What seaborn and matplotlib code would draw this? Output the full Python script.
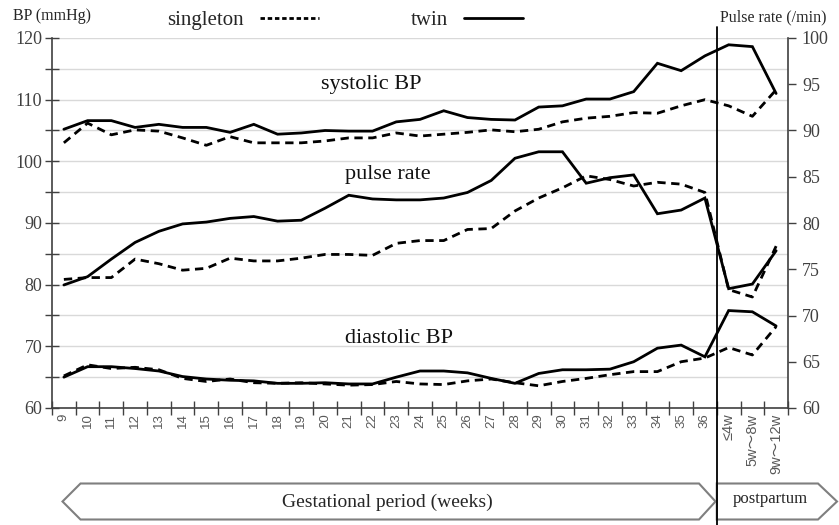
import matplotlib
matplotlib.use("Agg")
import numpy as np
import pandas as pd
import matplotlib.pyplot as plt
import seaborn as sns
from matplotlib.patches import Polygon
from matplotlib.lines import Line2D

# ---------------- data ----------------
categories = ["9", "10", "11", "12", "13", "14", "15", "16", "17", "18", "19",
              "20", "21", "22", "23", "24", "25", "26", "27", "28", "29", "30",
              "31", "32", "33", "34", "35", "36", "≤4w", "5w～8w", "9w～12w"]

systolic_singleton = [103.0, 106.2, 104.3, 105.1, 104.9, 103.8, 102.6, 104.0, 103.0, 103.0,
                      103.0, 103.3, 103.8, 103.8, 104.6, 104.1, 104.4, 104.7, 105.1, 104.8,
                      105.2, 106.4, 107.0, 107.3, 107.9, 107.8, 109.0, 110.0, 109.0, 107.3, 111.6]
systolic_twin = [105.2, 106.6, 106.6, 105.5, 106.0, 105.5, 105.5, 104.7, 106.0, 104.4,
                 104.6, 105.0, 104.9, 104.9, 106.4, 106.8, 108.2, 107.1, 106.8, 106.7,
                 108.8, 109.0, 110.1, 110.1, 111.3, 115.9, 114.7, 117.1, 118.9, 118.6, 111.0]
pulse_singleton = [73.9, 74.1, 74.1, 76.1, 75.6, 74.9, 75.1, 76.2, 75.9, 75.9,
                   76.2, 76.6, 76.6, 76.5, 77.8, 78.1, 78.1, 79.3, 79.4, 81.3,
                   82.7, 83.8, 85.1, 84.7, 84.0, 84.4, 84.2, 83.3, 72.8, 72.0, 77.5]
pulse_twin = [73.3, 74.2, 76.1, 77.9, 79.1, 79.9, 80.1, 80.5, 80.7, 80.2,
              80.3, 81.6, 83.0, 82.6, 82.5, 82.5, 82.7, 83.3, 84.6, 87.0,
              87.7, 87.7, 84.3, 84.9, 85.2, 81.0, 81.4, 82.7, 72.9, 73.4, 77.0]
diastolic_singleton = [65.2, 67.0, 66.4, 66.6, 66.2, 64.8, 64.3, 64.7, 64.1, 64.0,
                       64.1, 63.9, 63.7, 63.8, 64.3, 63.9, 63.8, 64.4, 64.7, 64.1,
                       63.6, 64.3, 64.8, 65.4, 65.9, 65.9, 67.5, 68.1, 69.8, 68.6, 73.2]
diastolic_twin = [65.0, 66.7, 66.7, 66.4, 66.0, 65.1, 64.7, 64.5, 64.4, 64.0,
                  64.0, 64.1, 63.9, 63.9, 65.0, 66.0, 66.0, 65.7, 64.8, 64.0,
                  65.6, 66.2, 66.2, 66.3, 67.5, 69.7, 70.2, 68.3, 75.8, 75.6, 73.3]

left_ticks = [60, 70, 80, 90, 100, 110, 120]
right_ticks = [60, 65, 70, 75, 80, 85, 90, 95, 100]

# ---------------- style ----------------
sns.set_theme(style="white")
plt.rcParams["font.family"] = ["Liberation Serif", "Noto Sans CJK JP", "DejaVu Sans"]

W, H = 839, 525
fig = plt.figure(figsize=(W / 100, H / 100), dpi=100)
ax_l, ax_r, ax_t, ax_b = 52, 788, 38, 408
ax = fig.add_axes([ax_l / W, 1 - ax_b / H, (ax_r - ax_l) / W, (ax_b - ax_t) / H])
ax2 = ax.twinx()

pos = np.arange(len(categories))


def draw(axis, values, dashed):
    df = pd.DataFrame({"pos": pos, "value": values})
    sns.lineplot(data=df, x="pos", y="value", ax=axis, color="black",
                 linewidth=2.0, legend=False)
    line = axis.lines[-1]
    if dashed:
        line.set_dashes([3, 2])
    line.set_solid_joinstyle("miter")


draw(ax, systolic_singleton, True)
draw(ax, systolic_twin, False)
draw(ax, diastolic_singleton, True)
draw(ax, diastolic_twin, False)
draw(ax2, pulse_singleton, True)
draw(ax2, pulse_twin, False)

ax.set_xlim(-0.5, len(categories) - 0.5)
ax.set_ylim(60, 120)
ax2.set_ylim(60, 100)
for a in (ax, ax2):
    a.set_xlabel("")
    a.set_ylabel("")

# gridlines every 5 mmHg
ax.set_yticks(left_ticks)
ax.set_yticks([65, 75, 85, 95, 105, 115], minor=True)
ax.yaxis.grid(True, which="both", color="#d9d9d9", linewidth=1.0)
ax.set_axisbelow(True)
ax.set_yticklabels([str(t) for t in left_ticks], fontsize=13, color="#404040",
                   family="Liberation Serif")
ax.tick_params(axis="y", which="both", direction="inout", length=10, width=1.0,
               color="#404040", left=True, pad=2)

ax2.set_yticks(right_ticks)
ax2.set_yticklabels([str(t) for t in right_ticks], fontsize=13, color="#404040",
                    family="Liberation Serif")
ax2.tick_params(axis="y", direction="out", length=6, width=1.0, color="#404040",
                right=True, pad=4)

# x ticks: boundaries carry marks, centers carry labels
ax.set_xticks(np.arange(-0.5, len(categories), 1.0))
ax.set_xticklabels([])
ax.tick_params(axis="x", which="major", direction="inout", length=10, width=1.0,
               color="#404040", bottom=True)
ax.set_xticks(pos, minor=True)
ax.set_xticklabels(categories, minor=True, rotation=90, fontsize=9.5,
                   color="#595959", family=["Liberation Sans", "Noto Sans CJK JP"])
ax.tick_params(axis="x", which="minor", length=0, pad=4)
for lbl in ax.get_xticklabels(minor=True)[28:]:
    lbl.set_fontsize(10.5)

for a in (ax, ax2):
    a.spines["top"].set_visible(False)
    for s in ("left", "right", "bottom"):
        a.spines[s].set_color("#404040")
        a.spines[s].set_linewidth(1.2)
ax.spines["right"].set_visible(False)
ax2.spines["left"].set_visible(False)
ax2.spines["bottom"].set_visible(False)

# series labels
ax.text(12.95, 112.4, "systolic BP", fontsize=16, ha="center", va="center", color="#111111")
ax.text(13.65, 97.9, "pulse rate", fontsize=16, ha="center", va="center", color="#111111")
ax.text(14.1, 71.2, "diastolic BP", fontsize=16, ha="center", va="center", color="#111111")

# axis titles
fig.text(13 / W, 1 - 16 / H, "BP (mmHg)", fontsize=11.5, ha="left", va="center")
fig.text(773 / W, 1 - 17 / H, "Pulse rate (/min)", fontsize=11.5, ha="center", va="center")

# legend (text first, then line sample)
handles = [Line2D([], [], color="black", linewidth=2.0, dashes=[1.6, 1.0]),
           Line2D([], [], color="black", linewidth=2.0)]
fig.legend(handles, ["singleton", "twin"], loc="center left",
           bbox_to_anchor=(167 / W, 1 - 20 / H), ncol=2, frameon=False,
           markerfirst=False, fontsize=15, handlelength=2.8, handletextpad=0.8,
           columnspacing=4.4, borderpad=0, borderaxespad=0)

# divider between gestation and postpartum
div_x = ax_l + (ax_r - ax_l) * 28 / len(categories)
fig.add_artist(Line2D([div_x / W, div_x / W], [1 - 27 / H, 0], color="black",
                      linewidth=1.3, zorder=10))


def fpts(pts):
    return [(x / W, 1 - y / H) for x, y in pts]


y_top, y_mid, y_bot = 483.5, 501.5, 519.5
gest = Polygon(fpts([(62.5, y_mid), (80.5, y_top), (699, y_top), (715.5, y_mid),
                     (699, y_bot), (80.5, y_bot)]),
               closed=True, transform=fig.transFigure, facecolor="white",
               edgecolor="#7f7f7f", linewidth=1.5, zorder=5)
post = Polygon(fpts([(div_x, y_top), (818, y_top), (837, y_mid), (818, y_bot),
                     (div_x, y_bot)]),
               closed=True, transform=fig.transFigure, facecolor="white",
               edgecolor="#7f7f7f", linewidth=1.5, zorder=5)
fig.add_artist(gest)
fig.add_artist(post)
fig.text(387 / W, 1 - 502 / H, "Gestational period (weeks)", fontsize=14,
         ha="center", va="center", zorder=6)
fig.text(770 / W, 1 - 499 / H, "postpartum", fontsize=12, ha="center",
         va="center", zorder=6)

fig.savefig("out.png", dpi=100, facecolor="white")
